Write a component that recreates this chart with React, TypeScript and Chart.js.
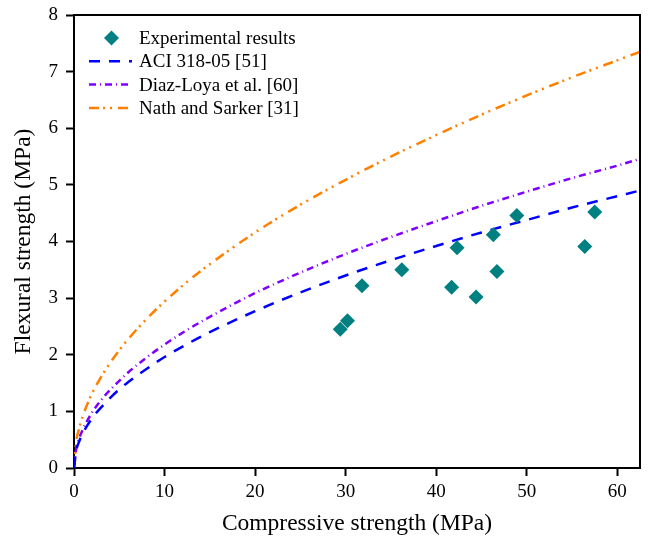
import React, { useEffect, useRef } from "react";
import { Chart, registerables } from "chart.js";

Chart.register(...registerables);

// Experimental results (compressive MPa, flexural MPa)
const expX = [29.4, 30.2, 31.8, 36.2, 41.7, 42.3, 44.4, 46.3, 46.7, 48.9, 56.4, 57.5];
const expY = [2.45, 2.6, 3.22, 3.5, 3.19, 3.89, 3.02, 4.12, 3.47, 4.46, 3.91, 4.52];

// Prediction curves
const curveX = [0, 0.25, 0.5, 1, 2, 3, 4, 5, 6, 8, 10, 12.5, 15, 20, 25, 30, 35, 40, 45, 50, 55, 60, 62.5];
const aciY = [0, 0.31, 0.44, 0.62, 0.88, 1.07, 1.24, 1.39, 1.52, 1.75, 1.96, 2.19, 2.4, 2.77, 3.1, 3.4, 3.67, 3.92, 4.16, 4.38, 4.6, 4.8, 4.9];
const diazY = [0, 0.35, 0.49, 0.69, 0.98, 1.2, 1.38, 1.54, 1.69, 1.95, 2.18, 2.44, 2.67, 3.09, 3.45, 3.78, 4.08, 4.36, 4.63, 4.88, 5.12, 5.34, 5.46];
const nathY = [0, 0.47, 0.66, 0.93, 1.32, 1.61, 1.86, 2.08, 2.28, 2.63, 2.94, 3.29, 3.6, 4.16, 4.65, 5.09, 5.5, 5.88, 6.24, 6.58, 6.9, 7.2, 7.35];

const seriesLabels = ["Experimental results", "ACI 318-05 [51]", "Diaz-Loya et al. [60]", "Nath and Sarker [31]"];
const xTitle = "Compressive strength (MPa)";
const yTitle = "Flexural strength (MPa)";

const FONT = "'Liberation Serif', 'Times New Roman', serif";
const TEAL = "#008080";
const BLUE = "#0000ff";
const PURPLE = "#8000ff";
const ORANGE = "#ff8000";
const DASH_ACI = [11, 9];
const DASH_DIAZ = [7, 4, 1, 4];
const DASH_NATH = [10, 4, 2, 5, 2, 6];

const toPts = (xs: number[], ys: number[]) => xs.map((x, i) => ({ x, y: ys[i] }));

const frame = {
  id: "frame",
  afterDatasetsDraw(chart: any) {
    const { ctx, chartArea: a } = chart;
    ctx.save();
    ctx.strokeStyle = "#000";
    ctx.lineWidth = 2;
    ctx.beginPath();
    ctx.moveTo(a.left, a.top);
    ctx.lineTo(a.right, a.top);
    ctx.lineTo(a.right, a.bottom);
    ctx.stroke();
    ctx.restore();
  },
  afterDraw(chart: any) {
    const { ctx, chartArea: a } = chart;
    const ds = chart.data.datasets;
    ctx.save();
    ctx.font = "19px " + FONT;
    ctx.textBaseline = "middle";
    ctx.fillStyle = "#000";
    const x0 = a.left + 15;
    const x1 = a.left + 58;
    const tx = a.left + 65;
    const y0 = a.top + 23;
    const step = 23.3;
    ds.forEach((d: any, i: number) => {
      const y = y0 + i * step;
      if (i === 0) {
        const cx = (x0 + x1) / 2 + 1;
        ctx.fillStyle = TEAL;
        ctx.beginPath();
        ctx.moveTo(cx, y - 7.5);
        ctx.lineTo(cx + 7.5, y);
        ctx.lineTo(cx, y + 7.5);
        ctx.lineTo(cx - 7.5, y);
        ctx.closePath();
        ctx.fill();
      } else {
        ctx.strokeStyle = d.borderColor;
        ctx.lineWidth = 2.5;
        ctx.setLineDash(d.borderDash);
        ctx.beginPath();
        ctx.moveTo(x0, y);
        ctx.lineTo(x1, y);
        ctx.stroke();
        ctx.setLineDash([]);
      }
      ctx.fillStyle = "#000";
      ctx.fillText(d.label, tx, y + 1);
    });
    ctx.restore();
  },
};

export default function App() {
  const ref = useRef<HTMLCanvasElement>(null);
  useEffect(() => {
    if (!ref.current) return;
    Chart.defaults.color = "#000";
    const lineDs = (label: string, ys: number[], color: string, dash: number[]) => ({
      type: "line" as const,
      label,
      data: toPts(curveX, ys),
      borderColor: color,
      backgroundColor: color,
      borderWidth: 2.5,
      borderDash: dash,
      pointRadius: 0,
      showLine: true,
      fill: false,
      cubicInterpolationMode: "monotone" as const,
    });
    const chart = new Chart(ref.current, {
      type: "scatter",
      data: {
        datasets: [
          {
            label: seriesLabels[0],
            data: toPts(expX, expY),
            pointStyle: "rectRot",
            pointRadius: 7.5,
            backgroundColor: TEAL,
            borderColor: TEAL,
            borderWidth: 0,
          } as any,
          lineDs(seriesLabels[1], aciY, BLUE, DASH_ACI),
          lineDs(seriesLabels[2], diazY, PURPLE, DASH_DIAZ),
          lineDs(seriesLabels[3], nathY, ORANGE, DASH_NATH),
        ],
      },
      options: {
        animation: false,
        responsive: false,
        devicePixelRatio: 1,
        layout: { padding: { top: 15, right: 9, left: 0, bottom: 0 } },
        plugins: { legend: { display: false }, tooltip: { enabled: false } },
        scales: {
          x: {
            type: "linear",
            min: 0,
            max: 62.5,
            afterFit: (s: any) => { s.height = 71; s.paddingLeft = 0; s.paddingRight = 0; },
            ticks: { stepSize: 10, includeBounds: false, font: { family: FONT, size: 19 }, color: "#000", padding: 5, maxRotation: 0 },
            grid: { drawOnChartArea: false, tickLength: 8, color: "#000", tickWidth: 2 },
            border: { color: "#000", width: 2 },
            title: { display: true, text: xTitle, font: { family: FONT, size: 23.5 }, color: "#000", padding: { bottom: 1, top: 0 } },
          },
          y: {
            type: "linear",
            min: 0,
            max: 8,
            afterFit: (s: any) => { s.width = 74; s.paddingTop = 0; s.paddingBottom = 0; },
            ticks: { stepSize: 1, font: { family: FONT, size: 19 }, color: "#000", padding: 8 },
            grid: { drawOnChartArea: false, tickLength: 8, color: "#000", tickWidth: 2 },
            border: { color: "#000", width: 2 },
            title: { display: true, text: yTitle, font: { family: FONT, size: 23.5 }, color: "#000", padding: { top: 10, bottom: 0 } },
          },
        },
      },
      plugins: [frame],
    });
    return () => chart.destroy();
  }, []);
  return (
    <div style={{ position: "absolute", left: 0, top: 0, width: 649, height: 539, background: "#fff" }}>
      <canvas ref={ref} width={649} height={539} />
    </div>
  );
}
